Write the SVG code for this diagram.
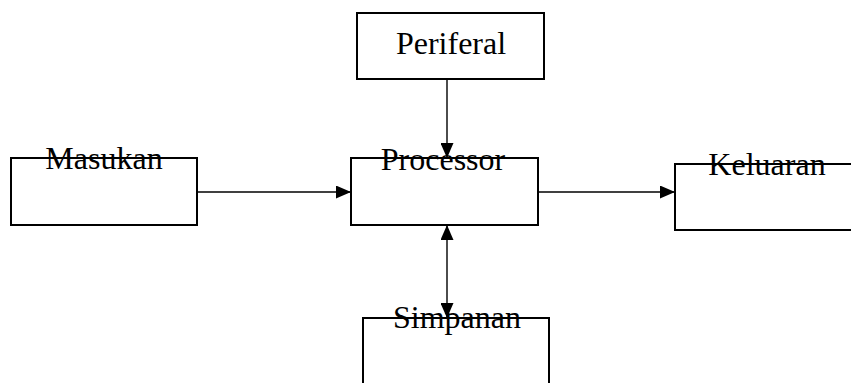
<svg xmlns="http://www.w3.org/2000/svg" width="851" height="383" viewBox="0 0 851 383">
  <style>
    .box { fill: #fff; stroke: #000; stroke-width: 2; }
    .label { font-family: "Liberation Serif", "Times New Roman", serif; font-size: 32px; fill: #000; text-anchor: middle; }
    .link { fill: none; stroke: #000; stroke-width: 1.4; }
  </style>
  <defs>
    <marker id="arrowEnd" viewBox="0 0 15 13" refX="15" refY="6.5" markerWidth="15" markerHeight="13" markerUnits="userSpaceOnUse" orient="auto">
      <path d="M0,0 L15,6.5 L0,13 Z" fill="#000"/>
    </marker>
    <marker id="arrowStart" viewBox="0 0 15 13" refX="0" refY="6.5" markerWidth="15" markerHeight="13" markerUnits="userSpaceOnUse" orient="auto">
      <path d="M15,0 L0,6.5 L15,13 Z" fill="#000"/>
    </marker>
  </defs>
  <rect width="851" height="383" fill="#fff"/>

  <g id="periferal">
    <rect class="box" x="357" y="13" width="187" height="66"/>
    <text class="label" x="451" y="54">Periferal</text>
  </g>

  <g id="masukan">
    <rect class="box" x="11" y="158" width="186" height="67"/>
    <text class="label" x="104" y="169">Masukan</text>
  </g>

  <g id="processor">
    <rect class="box" x="351" y="158" width="187" height="67"/>
    <text class="label" x="443" y="170">Processor</text>
  </g>

  <g id="keluaran">
    <rect class="box" x="675" y="164" width="200" height="66"/>
    <text class="label" x="767" y="175">Keluaran</text>
  </g>

  <g id="simpanan">
    <rect class="box" x="363" y="318" width="186" height="80"/>
    <text class="label" x="457" y="328">Simpanan</text>
  </g>

  <g id="connectors">
    <line class="link" x1="447" y1="79" x2="447" y2="158" marker-end="url(#arrowEnd)"/>
    <line class="link" x1="197" y1="192" x2="351" y2="192" marker-end="url(#arrowEnd)"/>
    <line class="link" x1="538" y1="192" x2="675" y2="192" marker-end="url(#arrowEnd)"/>
    <line class="link" x1="447" y1="225" x2="447" y2="318" marker-start="url(#arrowStart)" marker-end="url(#arrowEnd)"/>
  </g>
</svg>
